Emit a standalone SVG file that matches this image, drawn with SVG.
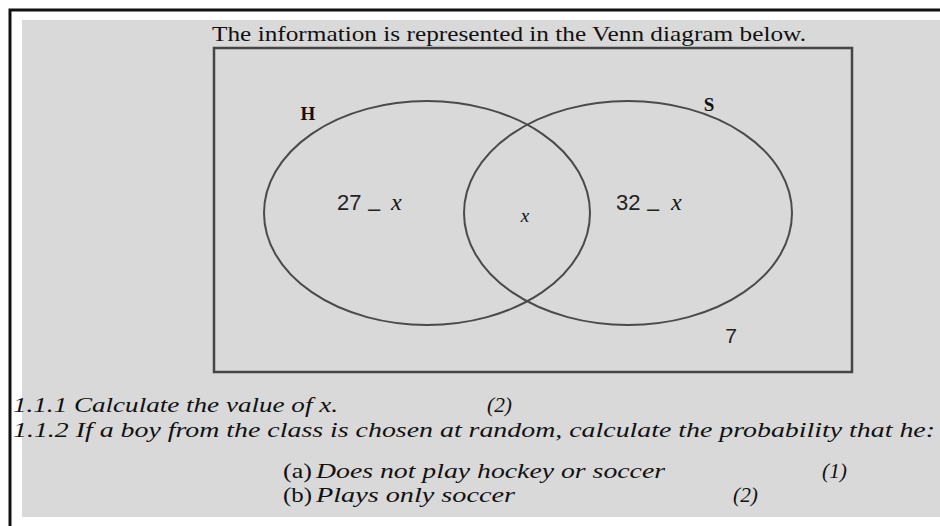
<svg xmlns="http://www.w3.org/2000/svg" width="940" height="526" viewBox="0 0 940 526">
<style>
.serif{font-family:"Liberation Serif","Times New Roman",serif;fill:#111}
.sans{font-family:"Liberation Sans",Arial,sans-serif;fill:#222}
.set{fill:none;stroke:#4a4a4a;stroke-width:2}
.q{font-family:"Liberation Serif","Times New Roman",serif;font-style:italic;font-size:21px;fill:#111}
.lbl{font-family:"Liberation Serif","Times New Roman",serif;font-size:21px;fill:#111}
</style>
<rect x="0" y="0" width="940" height="526" fill="#ffffff"/>
<path d="M10,526 V10 H940" fill="none" stroke="#111" stroke-width="3"/>
<rect x="22" y="20" width="918" height="497" fill="#d9d9d9"/>
<text class="serif" x="509" y="41" font-size="22" text-anchor="middle" textLength="594" lengthAdjust="spacingAndGlyphs">The information is represented in the Venn diagram below.</text>
<g id="universe">
<rect x="214" y="48" width="638" height="324" fill="none" stroke="#454545" stroke-width="2.5"/>
<text class="sans" x="731" y="343" font-size="21" text-anchor="middle">7</text>
</g>
<g id="H">
<ellipse class="set" cx="427" cy="213" rx="163" ry="112"/>
<text class="serif" x="308" y="120" font-size="19" font-weight="bold" text-anchor="middle">H</text>
<text class="sans" x="337" y="210" font-size="22">27<tspan x="368" dy="6">–</tspan><tspan x="391" dy="-6" class="serif" font-style="italic" font-size="24">x</tspan></text>
</g>
<g id="S">
<ellipse class="set" cx="628" cy="213" rx="164" ry="112"/>
<text class="serif" x="709" y="111" font-size="19" font-weight="bold" text-anchor="middle">S</text>
<text class="sans" x="616" y="210" font-size="22">32<tspan x="647" dy="6">–</tspan><tspan x="671" dy="-6" class="serif" font-style="italic" font-size="24">x</tspan></text>
</g>
<g id="HS">
<text class="serif" x="525" y="222" font-size="19" font-style="italic" text-anchor="middle">x</text>
</g>
<g id="questions">
<text class="q" x="13" y="412" textLength="325" lengthAdjust="spacingAndGlyphs">1.1.1 Calculate the value of x.</text>
<text class="q" x="487" y="412" textLength="25" lengthAdjust="spacingAndGlyphs">(2)</text>
<text class="q" x="13" y="437" textLength="922" lengthAdjust="spacingAndGlyphs">1.1.2 If a boy from the class is chosen at random, calculate the probability that he:</text>
<text class="lbl" x="283" y="478" textLength="29" lengthAdjust="spacingAndGlyphs">(a)</text>
<text class="q" x="316" y="478" textLength="349" lengthAdjust="spacingAndGlyphs">Does not play hockey or soccer</text>
<text class="q" x="822" y="478" textLength="25" lengthAdjust="spacingAndGlyphs">(1)</text>
<text class="lbl" x="283" y="502" textLength="29" lengthAdjust="spacingAndGlyphs">(b)</text>
<text class="q" x="316" y="502" textLength="199" lengthAdjust="spacingAndGlyphs">Plays only soccer</text>
<text class="q" x="733" y="502" textLength="25" lengthAdjust="spacingAndGlyphs">(2)</text>
</g>
</svg>
